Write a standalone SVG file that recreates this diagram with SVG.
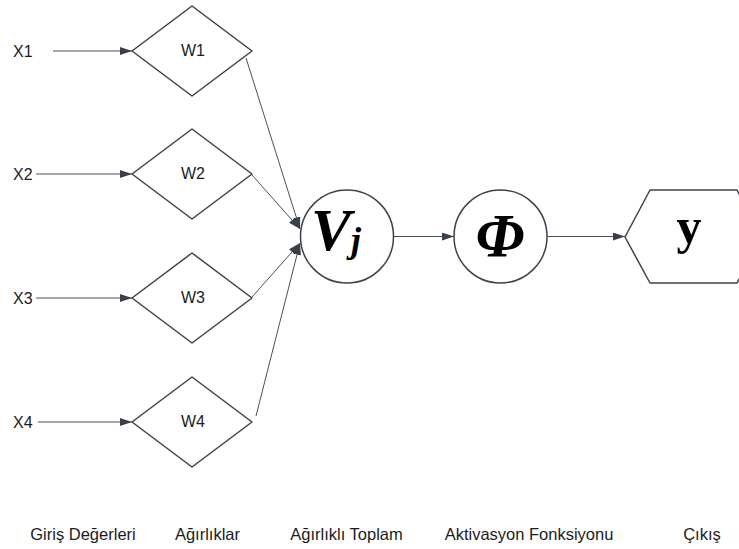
<svg xmlns="http://www.w3.org/2000/svg" width="739" height="549" viewBox="0 0 739 549">
  <defs>
    <marker id="arrow" markerUnits="userSpaceOnUse" markerWidth="12" markerHeight="8" refX="12" refY="4" orient="auto">
      <path d="M0,0 L12,4 L0,8 z" fill="#3a4049"/>
    </marker>
    <style>
      .shape { fill: #ffffff; stroke: #3d434b; stroke-width: 1.5; stroke-linejoin: round; }
      .link { fill: none; stroke: #4a5059; stroke-width: 1; marker-end: url(#arrow); }
      .lbl { font-family: "Liberation Sans", Arial, sans-serif; font-size: 16px; fill: #1c1c1c; }
      .wlbl { font-family: "Liberation Sans", Arial, sans-serif; font-size: 16px; fill: #1c1c1c; text-anchor: middle; }
      .cap { font-family: "Liberation Sans", Arial, sans-serif; font-size: 16.5px; fill: #1c1c1c; text-anchor: middle; }
      .math { font-family: "Liberation Serif", "Times New Roman", serif; font-weight: bold; fill: #000000; }
    </style>
  </defs>

  <rect width="739" height="549" fill="#ffffff"/>

  <!-- input labels -->
  <g id="x1"><text class="lbl" x="13" y="57">X1</text></g>
  <g id="x2"><text class="lbl" x="13" y="180">X2</text></g>
  <g id="x3"><text class="lbl" x="13" y="304">X3</text></g>
  <g id="x4"><text class="lbl" x="13" y="428">X4</text></g>

  <!-- weight diamonds -->
  <g id="w1">
    <polygon class="shape" points="132,51 192,6 252,51 192,96"/>
    <text class="wlbl" x="193" y="56">W1</text>
  </g>
  <g id="w2">
    <polygon class="shape" points="132,174 192,129 252,174 192,219"/>
    <text class="wlbl" x="193" y="179">W2</text>
  </g>
  <g id="w3">
    <polygon class="shape" points="132,298 192,253 252,298 192,343"/>
    <text class="wlbl" x="193" y="303">W3</text>
  </g>
  <g id="w4">
    <polygon class="shape" points="132,422 192,377 252,422 192,467"/>
    <text class="wlbl" x="193" y="427">W4</text>
  </g>

  <!-- weighted sum -->
  <g id="vj">
    <circle class="shape" cx="347" cy="236.5" r="46.5"/>
    <text class="math" font-style="italic" font-size="60" x="311" y="250">V<tspan font-size="36" dy="2">j</tspan></text>
  </g>

  <!-- activation -->
  <g id="phi">
    <circle class="shape" cx="500.5" cy="236.5" r="46.5"/>
    <text class="math" font-style="italic" font-size="62" x="500" y="256" text-anchor="middle">Φ</text>
  </g>

  <!-- output -->
  <g id="out">
    <path class="shape" d="M625,237 L650,190 L737,190 L762,237 L737,283 L650,283 Z"/>
    <text class="math" font-size="50" x="689" y="243" text-anchor="middle">y</text>
  </g>

  <!-- connectors -->
  <g id="connectors">
    <line class="link" x1="53" y1="51" x2="132" y2="51"/>
    <line class="link" x1="36" y1="174" x2="132" y2="174"/>
    <line class="link" x1="36" y1="298" x2="132" y2="298"/>
    <line class="link" x1="38" y1="422" x2="132" y2="422"/>
    <line class="link" x1="246" y1="58" x2="300" y2="229"/>
    <line class="link" x1="252" y1="175" x2="300" y2="229"/>
    <line class="link" x1="252" y1="297" x2="300" y2="243"/>
    <line class="link" x1="256" y1="416" x2="300" y2="243"/>
    <line class="link" x1="393.5" y1="236.5" x2="454" y2="236.5"/>
    <line class="link" x1="547" y1="236.5" x2="625" y2="236.5"/>
  </g>

  <!-- column captions -->
  <g id="captions">
    <text class="cap" x="83" y="540">Giriş Değerleri</text>
    <text class="cap" x="207.5" y="540">Ağırlıklar</text>
    <text class="cap" x="346.5" y="540">Ağırlıklı Toplam</text>
    <text class="cap" x="529" y="540">Aktivasyon Fonksiyonu</text>
    <text class="cap" x="702" y="540">Çıkış</text>
  </g>
</svg>
